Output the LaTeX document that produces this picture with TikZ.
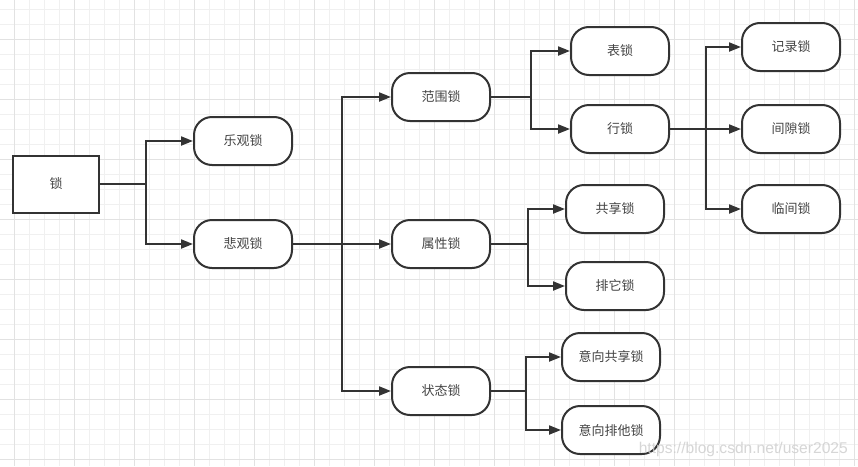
\documentclass[tikz,border=0pt]{standalone}
\usepackage{fontspec}
\setmainfont{Noto Sans CJK SC}
\newfontfamily\wmfont{Liberation Sans}
\usetikzlibrary{arrows.meta}
\definecolor{minorgrid}{HTML}{F0F0F0}
\definecolor{majorgrid}{HTML}{E2E2E2}
\definecolor{ink}{HTML}{333333}
\definecolor{txt}{HTML}{444444}
\tikzset{
  base/.style={draw=ink, line width=2pt, fill=white, text=txt,
    font=\fontsize{13}{15}\selectfont, inner sep=0pt},
  sqbox/.style={base, minimum width=86pt, minimum height=57pt},
  rbox/.style={base, rounded corners=18pt, minimum width=98pt, minimum height=48pt},
  link/.style={draw=ink, line width=2pt},
  arr/.style={link, -{Triangle[length=12pt,width=9pt]}},
}
\begin{document}
\begin{tikzpicture}[x=1pt,y=-1pt]
\useasboundingbox (0,0) rectangle (858,466);
\fill[white] (0,0) rectangle (858,466);
% grid
\foreach \i in {0,...,57} {
  \draw[minorgrid, line width=1pt] ({14.3+15*\i-15},0) -- ({14.3+15*\i-15},466);
}
\foreach \j in {0,...,31} {
  \draw[minorgrid, line width=1pt] (0,{9.3+15*\j}) -- (858,{9.3+15*\j});
}
\foreach \i in {0,...,14} {
  \draw[majorgrid, line width=1pt] ({14.3+60*\i},0) -- ({14.3+60*\i},466);
}
\foreach \j in {0,...,7} {
  \draw[majorgrid, line width=1pt] (0,{39.3+60*\j}) -- (858,{39.3+60*\j});
}

% nodes
\node[sqbox] (lock) at (56,184) {锁};
\node[rbox] (opt) at (243,141) {乐观锁};
\node[rbox] (pes) at (243,244) {悲观锁};
\node[rbox] (range) at (441,97) {范围锁};
\node[rbox] (attr) at (441,244) {属性锁};
\node[rbox] (state) at (441,391) {状态锁};
\node[rbox] (table) at (620,51) {表锁};
\node[rbox] (row) at (620,129) {行锁};
\node[rbox] (share) at (615,209) {共享锁};
\node[rbox] (excl) at (615,286) {排它锁};
\node[rbox] (ishare) at (611,357) {意向共享锁};
\node[rbox] (iexcl) at (611,430) {意向排他锁};
\node[rbox] (rec) at (791,47) {记录锁};
\node[rbox] (gap) at (791,129) {间隙锁};
\node[rbox] (nk) at (791,209) {临间锁};

% connectors
\draw[arr] (lock.east) -- ++(46,0) |- (opt.west);
\draw[arr] (lock.east) -- ++(46,0) |- (pes.west);

\draw[arr] (pes.east) -- ++(49,0) |- (range.west);
\draw[arr] (pes.east) -- (attr.west);
\draw[arr] (pes.east) -- ++(49,0) |- (state.west);

\draw[arr] (range.east) -- ++(40,0) |- (table.west);
\draw[arr] (range.east) -- ++(40,0) |- (row.west);

\draw[arr] (attr.east) -- ++(37,0) |- (share.west);
\draw[arr] (attr.east) -- ++(37,0) |- (excl.west);

\draw[arr] (state.east) -- ++(35,0) |- (ishare.west);
\draw[arr] (state.east) -- ++(35,0) |- (iexcl.west);

\draw[arr] (row.east) -- ++(36,0) |- (rec.west);
\draw[arr] (row.east) -- (gap.west);
\draw[arr] (row.east) -- ++(36,0) |- (nk.west);

% watermark
\node[anchor=base east, inner sep=0pt, text=gray!40, opacity=0.8,
  font=\wmfont\fontsize{15.6}{18}\selectfont] (wm) at (848,453) {https://blog.csdn.net/user2025};
\end{tikzpicture}
\end{document}
